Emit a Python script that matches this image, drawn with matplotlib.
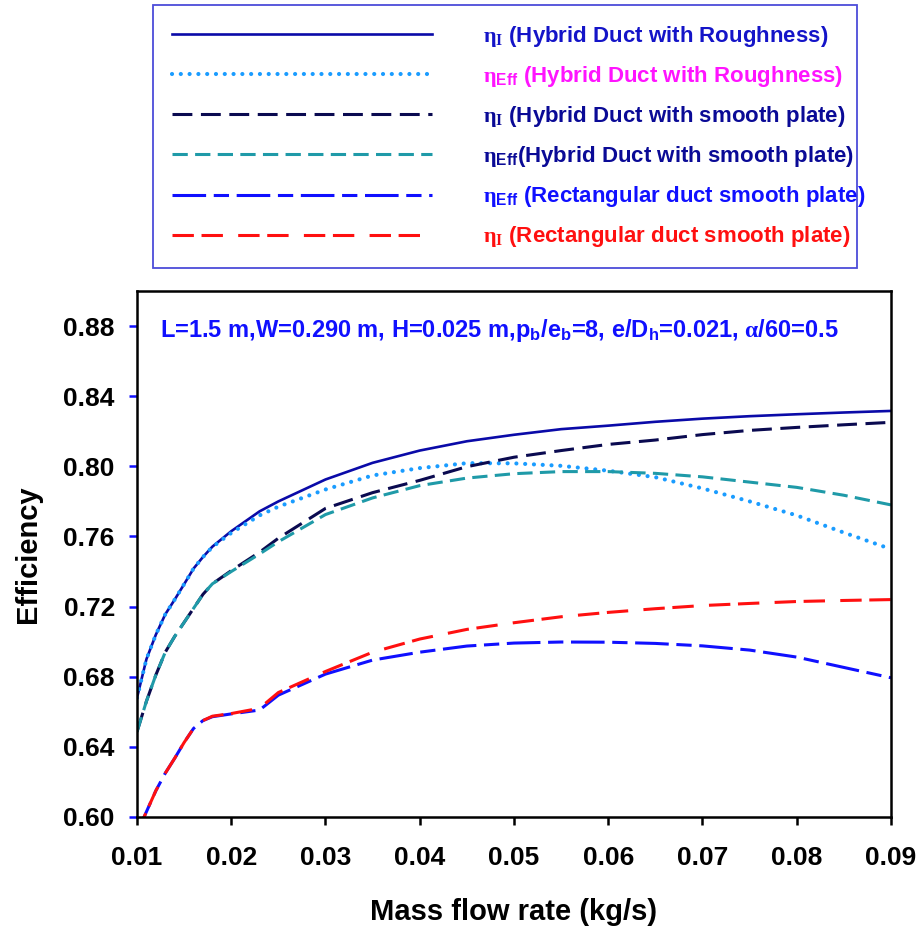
import numpy as np
import matplotlib
matplotlib.use('Agg')
import matplotlib.pyplot as plt

plt.rcParams['font.family'] = ['Liberation Sans', 'DejaVu Sans']
plt.rcParams['font.weight'] = 'bold'
plt.rcParams['mathtext.fontset'] = 'custom'
plt.rcParams['mathtext.rm'] = 'Liberation Serif'
plt.rcParams['mathtext.it'] = 'Liberation Serif:italic'
plt.rcParams['mathtext.bf'] = 'Liberation Sans:bold'

# mass flow rate (kg/s)
mass_flow = [0.010, 0.011, 0.012, 0.013, 0.014, 0.015, 0.016, 0.017, 0.018, 0.020,
             0.023, 0.025, 0.030, 0.035, 0.040, 0.045, 0.050, 0.055, 0.060, 0.065,
             0.070, 0.075, 0.080, 0.085, 0.090]

eta_i_hybrid_rough = [0.668, 0.690, 0.704, 0.7156, 0.724, 0.7328, 0.7417, 0.7483, 0.7542, 0.763,
                      0.7743, 0.780, 0.7925, 0.802, 0.809, 0.8143, 0.818, 0.8212, 0.8232, 0.8254,
                      0.8272, 0.8286, 0.8297, 0.8307, 0.8316]
eta_eff_hybrid_rough = [0.668, 0.690, 0.704, 0.7156, 0.724, 0.7328, 0.7417, 0.7483, 0.7540, 0.762,
                        0.772, 0.777, 0.7868, 0.7948, 0.799, 0.8018, 0.8017, 0.8003, 0.7975, 0.7938,
                        0.7874, 0.780, 0.772, 0.7622, 0.7528]
eta_i_hybrid_smooth = [0.6486, 0.666, 0.681, 0.694, 0.703, 0.711, 0.719, 0.727, 0.733, 0.7405,
                       0.751, 0.759, 0.776, 0.785, 0.792, 0.7998, 0.8052, 0.809, 0.8125, 0.815,
                       0.8181, 0.8205, 0.8222, 0.8237, 0.8251]
eta_eff_hybrid_smooth = [0.6486, 0.666, 0.681, 0.694, 0.703, 0.711, 0.719, 0.727, 0.733, 0.7400,
                         0.750, 0.757, 0.7725, 0.782, 0.789, 0.7933, 0.7958, 0.797, 0.797, 0.796,
                         0.794, 0.791, 0.788, 0.7835, 0.778]
eta_eff_rect_smooth = [0.591, 0.603, 0.615, 0.625, 0.6335, 0.6425, 0.6505, 0.655, 0.6572, 0.6588,
                       0.661, 0.6695, 0.6815, 0.6895, 0.694, 0.6975, 0.6992, 0.6998, 0.6997, 0.699,
                       0.6976, 0.6952, 0.6912, 0.6853, 0.6794]
eta_i_rect_smooth = [0.591, 0.603, 0.615, 0.625, 0.6335, 0.6425, 0.6505, 0.655, 0.6575, 0.659,
                     0.662, 0.671, 0.683, 0.694, 0.7015, 0.707, 0.7108, 0.7142, 0.7167, 0.7188,
                     0.7206, 0.7218, 0.7229, 0.7235, 0.724]

x_ticks = [0.01, 0.02, 0.03, 0.04, 0.05, 0.06, 0.07, 0.08, 0.09]
y_ticks = [0.60, 0.64, 0.68, 0.72, 0.76, 0.80, 0.84, 0.88]

dotted = (0, (0.01, 2.1))
series = [
    (eta_i_hybrid_rough, '#0a0aa8', '-', 1.9,
     r'$\mathrm{\eta}_{\mathrm{I}}$ (Hybrid Duct with Roughness)', '#1414c8'),
    (eta_eff_hybrid_rough, '#1a9cff', dotted, 3.0,
     r'$\mathrm{\eta}_{\mathbf{Eff}}$ (Hybrid Duct with Roughness)', '#ff14ff'),
    (eta_i_hybrid_smooth, '#0a0a50', (0, (6.5, 2.8)), 2.2,
     r'$\mathrm{\eta}_{\mathrm{I}}$ (Hybrid Duct with smooth plate)', '#0a0a96'),
    (eta_eff_hybrid_smooth, '#1f9aa8', (0, (5.0, 2.4)), 2.2,
     r'$\mathrm{\eta}_{\mathbf{Eff}}$(Hybrid Duct with smooth plate)', '#0a0a96'),
    (eta_eff_rect_smooth, '#1010ff', (0, (11, 2.5, 5, 2.5)), 2.2,
     r'$\mathrm{\eta}_{\mathbf{Eff}}$ (Rectangular duct smooth plate)', '#1010ff'),
    (eta_i_rect_smooth, '#ff1010', (0, (7, 2.5, 7, 5)), 2.2,
     r'$\mathrm{\eta}_{\mathrm{I}}$ (Rectangular duct smooth plate)', '#ff1010'),
]

fig = plt.figure(figsize=(9.24, 9.30), dpi=100)
ax = fig.add_axes([137 / 924, 1 - 817 / 930, 754 / 924, 526 / 930])

handles = []
for vals, color, ls, lw, label, _ in series:
    line, = ax.plot(mass_flow, vals, color=color, linestyle=ls, linewidth=lw,
                    dash_capstyle='round' if ls == dotted else 'butt', label=label)
    handles.append(line)

ax.set_xlim(0.01, 0.09)
ax.set_ylim(0.60, 0.90)
ax.set_xticks(x_ticks)
ax.set_xticklabels([f'{t:.2f}' for t in x_ticks])
ax.set_yticks(y_ticks)
ax.set_yticklabels([f'{t:.2f}' for t in y_ticks])
ax.tick_params(axis='both', labelsize=19, direction='out', length=6, width=1.8, pad=10)
ax.tick_params(axis='x', pad=15)
ax.tick_params(axis='y', color='#1010ff')
for s in ax.spines.values():
    s.set_linewidth(1.8)

ax.set_xlabel('Mass flow rate (kg/s)', fontsize=21, fontweight='bold', labelpad=20)
ax.set_ylabel('Efficiency', fontsize=21, fontweight='bold', labelpad=15)

ax.text(0.03, 0.925, r'L=1.5 m,W=0.290 m, H=0.025 m,p$_{\mathbf{b}}$/e$_{\mathbf{b}}$=8, '
        r'e/D$_{\mathbf{h}}$=0.021, $\mathrm{\alpha}$/60=0.5',
        transform=ax.transAxes, fontsize=17, fontweight='bold', color='#1010ff',
        va='center', ha='left')

leg = fig.legend(handles=handles, loc='upper left',
                 bbox_to_anchor=(153 / 924, 1 - 5 / 930, 704 / 924, 0.0),
                 mode='expand', fontsize=16, handlelength=11.7, handletextpad=2.3,
                 labelspacing=0.68, borderpad=0.85, borderaxespad=0.0,
                 fancybox=False, frameon=True)
leg.get_frame().set_edgecolor('#2020d0')
leg.get_frame().set_linewidth(1.3)
for txt, s in zip(leg.get_texts(), series):
    txt.set_color(s[5])

fig.savefig('out.png', dpi=100)
